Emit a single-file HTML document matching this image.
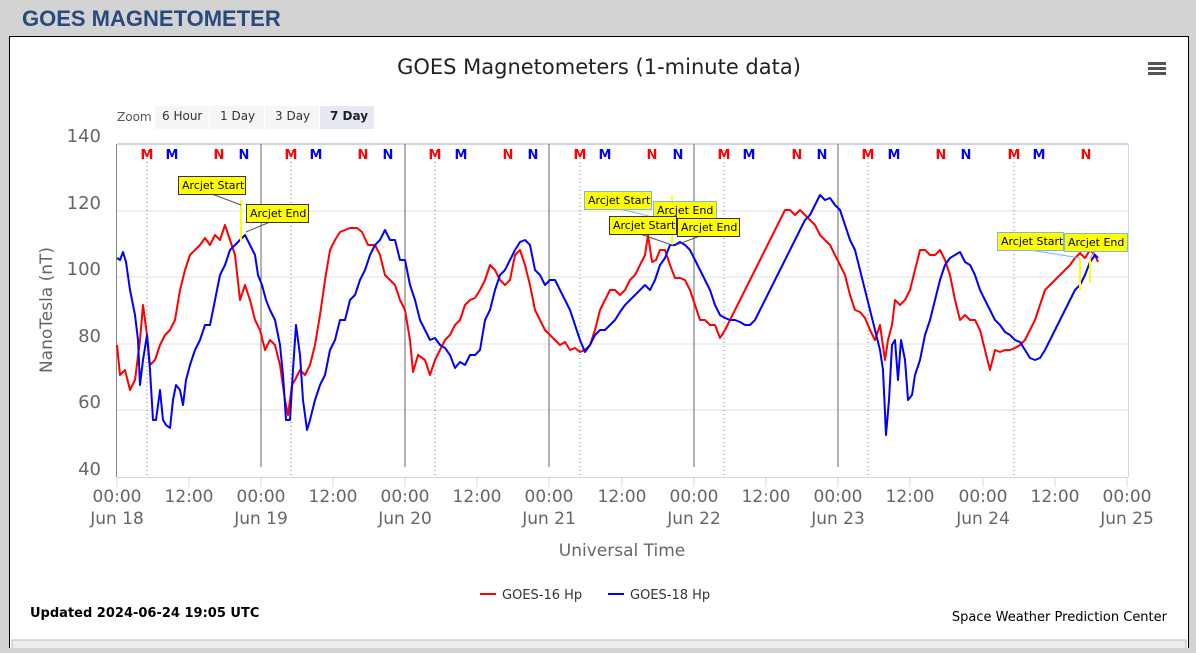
<!DOCTYPE html>
<html><head><meta charset="utf-8"><style>
body{margin:0;width:1196px;height:648px;background:#d3d3d3;overflow:hidden;font-family:"Liberation Sans",sans-serif}
</style></head><body>
<svg width="1196" height="648" xmlns="http://www.w3.org/2000/svg" font-family="Liberation Sans, DejaVu Sans, sans-serif">
<text x="22" y="26" font-size="22" font-weight="bold" fill="#2a4a7f">GOES MAGNETOMETER</text>
<rect x="9.5" y="36.5" width="1179" height="620" fill="#fff" stroke="#000"/>
<rect x="12" y="640" width="1174" height="10" fill="#eee" stroke="#bbb"/>
<text x="599" y="74" font-size="21" text-anchor="middle" fill="#222" font-family="DejaVu Sans, sans-serif">GOES Magnetometers (1-minute data)</text>
<g fill="#555"><rect x="1148" y="62" width="18" height="3"/><rect x="1148" y="67" width="18" height="3"/><rect x="1148" y="72" width="18" height="3"/></g>
<g font-size="12" font-family="DejaVu Sans, sans-serif">
<text x="117" y="121" fill="#555">Zoom</text>
<rect x="155" y="106" width="54" height="23" fill="#f5f5f5"/><text x="162" y="120" fill="#333">6 Hour</text>
<rect x="210" y="106" width="54" height="23" fill="#f5f5f5"/><text x="220" y="120" fill="#333">1 Day</text>
<rect x="265" y="106" width="54" height="23" fill="#f5f5f5"/><text x="275" y="120" fill="#333">3 Day</text>
<rect x="320" y="106" width="54" height="23" fill="#e6e9f4"/><text x="330" y="120" fill="#222" font-weight="bold">7 Day</text>
</g>
<g stroke="#e0e0e0"><line x1="117" y1="211" x2="1128" y2="211"/><line x1="117" y1="277" x2="1128" y2="277"/><line x1="117" y1="344" x2="1128" y2="344"/><line x1="117" y1="410" x2="1128" y2="410"/></g>
<line x1="1128.5" y1="144" x2="1128.5" y2="477" stroke="#ccd6eb"/>
<line x1="117" y1="144" x2="1128" y2="144" stroke="#ccd6eb" stroke-width="2"/>
<line x1="117" y1="477.5" x2="1128" y2="477.5" stroke="#ccd6eb"/>
<line x1="116.5" y1="144" x2="116.5" y2="477" stroke="#888"/>
<g stroke="#666"><line x1="261" y1="144" x2="261" y2="467"/><line x1="405" y1="144" x2="405" y2="467"/><line x1="549" y1="144" x2="549" y2="467"/><line x1="694" y1="144" x2="694" y2="467"/><line x1="838" y1="144" x2="838" y2="467"/></g>
<g stroke="#777" stroke-dasharray="1,3"><line x1="147" y1="150" x2="147" y2="477"/><line x1="291" y1="150" x2="291" y2="477"/><line x1="435" y1="150" x2="435" y2="477"/><line x1="580" y1="150" x2="580" y2="477"/><line x1="724" y1="150" x2="724" y2="477"/><line x1="868" y1="150" x2="868" y2="477"/><line x1="1014" y1="150" x2="1014" y2="477"/></g>
<g stroke="#ccd6eb"><line x1="189" y1="478" x2="189" y2="487"/><line x1="333" y1="478" x2="333" y2="487"/><line x1="477" y1="478" x2="477" y2="487"/><line x1="622" y1="478" x2="622" y2="487"/><line x1="766" y1="478" x2="766" y2="487"/><line x1="910" y1="478" x2="910" y2="487"/><line x1="1055" y1="478" x2="1055" y2="487"/>
<line x1="117" y1="478" x2="117" y2="487"/><line x1="261" y1="478" x2="261" y2="487"/><line x1="405" y1="478" x2="405" y2="487"/><line x1="549" y1="478" x2="549" y2="487"/><line x1="694" y1="478" x2="694" y2="487"/><line x1="838" y1="478" x2="838" y2="487"/><line x1="983" y1="478" x2="983" y2="487"/><line x1="1127" y1="478" x2="1127" y2="487"/></g>
<g font-size="18" fill="#666" text-anchor="end" font-family="DejaVu Sans, sans-serif">
<text x="101" y="142">140</text><text x="101" y="209">120</text><text x="101" y="275">100</text><text x="101" y="342">80</text><text x="101" y="408">60</text><text x="101" y="475">40</text></g>
<text transform="translate(52,310) rotate(-90)" font-size="17" fill="#666" text-anchor="middle" font-family="DejaVu Sans, sans-serif">NanoTesla (nT)</text>
<g font-size="17" fill="#666" text-anchor="middle" font-family="DejaVu Sans, sans-serif">
<text x="117" y="502">00:00</text><text x="117" y="524">Jun 18</text>
<text x="189" y="502">12:00</text>
<text x="261" y="502">00:00</text><text x="261" y="524">Jun 19</text>
<text x="333" y="502">12:00</text>
<text x="405" y="502">00:00</text><text x="405" y="524">Jun 20</text>
<text x="477" y="502">12:00</text>
<text x="549" y="502">00:00</text><text x="549" y="524">Jun 21</text>
<text x="622" y="502">12:00</text>
<text x="694" y="502">00:00</text><text x="694" y="524">Jun 22</text>
<text x="766" y="502">12:00</text>
<text x="838" y="502">00:00</text><text x="838" y="524">Jun 23</text>
<text x="910" y="502">12:00</text>
<text x="983" y="502">00:00</text><text x="983" y="524">Jun 24</text>
<text x="1055" y="502">12:00</text>
<text x="1127" y="502">00:00</text><text x="1127" y="524">Jun 25</text>
<text x="622" y="556">Universal Time</text></g>
<g font-size="13" font-weight="bold" text-anchor="middle" font-family="DejaVu Sans, sans-serif">
<g fill="#f00"><text x="147" y="159">M</text><text x="219" y="159">N</text><text x="291" y="159">M</text><text x="363" y="159">N</text><text x="435" y="159">M</text><text x="508" y="159">N</text><text x="580" y="159">M</text><text x="652" y="159">N</text><text x="724" y="159">M</text><text x="797" y="159">N</text><text x="868" y="159">M</text><text x="941" y="159">N</text><text x="1014" y="159">M</text><text x="1086" y="159">N</text></g>
<g fill="#00f"><text x="172" y="159">M</text><text x="244" y="159">N</text><text x="316" y="159">M</text><text x="388" y="159">N</text><text x="461" y="159">M</text><text x="533" y="159">N</text><text x="605" y="159">M</text><text x="678" y="159">N</text><text x="749" y="159">M</text><text x="822" y="159">N</text><text x="894" y="159">M</text><text x="966" y="159">N</text><text x="1039" y="159">M</text></g></g>
<polyline fill="none" stroke="#f00" stroke-width="2" stroke-linejoin="round" points="117,345 120,375 125,370 130,390 135,380 140,340 143,305 147,335 150,365 155,360 160,345 165,335 170,330 175,320 180,290 185,270 190,255 195,250 200,245 205,238 210,245 215,235 220,240 225,225 230,240 235,255 240,300 245,285 250,300 255,320 260,330 265,350 270,340 275,345 280,365 285,400 288,415 292,385 295,380 300,370 305,375 310,365 315,345 320,315 325,280 330,250 335,240 340,232 350,228 357,228 362,232 368,245 375,245 380,255 385,275 390,280 395,285 400,300 405,310 410,340 413,372 418,355 425,360 430,375 435,360 440,350 445,340 450,335 455,325 460,320 465,305 470,300 475,298 480,290 485,280 490,265 495,270 500,280 505,285 510,280 515,255 520,250 525,265 530,285 535,310 540,320 545,330 550,335 555,340 560,345 565,342 570,350 575,348 580,352 585,350 590,345 595,330 600,310 605,300 610,290 615,290 620,295 625,290 630,280 635,275 640,265 645,255 648,235 652,262 656,260 660,250 665,250 670,265 675,278 680,278 685,280 690,290 695,305 700,320 705,320 710,325 715,325 720,338 725,330 730,320 735,310 740,300 745,290 750,280 755,270 760,260 765,250 770,240 775,230 780,220 785,210 790,210 795,215 800,210 805,215 810,220 815,225 820,235 825,240 830,245 835,255 840,265 845,275 850,295 855,310 860,312 865,318 870,330 875,340 880,325 885,360 888,340 892,325 895,300 900,305 905,300 910,290 915,270 920,250 925,250 930,255 935,255 940,250 945,260 950,275 955,300 960,320 965,315 970,320 975,320 980,330 985,350 990,370 995,350 1000,352 1005,350 1010,350 1015,348 1020,345 1025,340 1030,330 1035,320 1040,305 1045,290 1050,285 1055,280 1060,275 1065,270 1070,265 1075,258 1080,253 1085,258 1090,250 1095,255 1098,262"/>
<polyline fill="none" stroke="#00f" stroke-width="2" stroke-linejoin="round" points="117,258 120,260 123,252 126,262 130,290 135,315 138,340 140,385 143,360 147,335 150,370 153,420 156,420 160,390 163,420 166,425 170,428 173,400 176,385 180,390 183,405 186,380 190,365 195,350 200,340 205,325 210,325 215,300 220,275 225,265 230,250 235,245 240,240 245,235 250,245 255,255 258,275 262,285 266,300 270,310 275,320 280,345 283,375 286,420 290,420 293,370 296,325 300,355 303,400 307,430 310,420 315,400 320,385 325,375 330,350 335,340 340,320 345,320 350,300 355,295 360,280 365,270 370,255 375,245 380,240 385,230 390,240 395,240 400,260 405,260 410,285 415,300 420,320 425,330 430,340 435,338 440,345 445,348 450,355 455,368 460,362 465,365 470,355 475,355 480,350 485,320 490,310 495,290 500,275 505,270 510,260 515,250 520,242 525,240 530,245 535,270 540,275 545,285 550,280 555,280 560,290 565,300 570,310 575,325 580,340 585,352 590,345 595,335 600,330 605,330 610,325 615,320 620,312 625,305 630,300 635,295 640,290 645,285 650,290 655,280 660,265 665,258 670,245 675,245 680,242 685,245 690,250 695,260 700,270 705,280 710,290 715,305 720,315 725,318 730,320 735,320 740,322 745,325 750,325 755,320 760,310 765,300 770,290 775,280 780,270 785,260 790,250 795,240 800,230 805,220 810,215 815,205 820,195 825,200 830,198 835,205 840,210 845,225 850,240 855,250 860,270 865,290 870,310 875,330 880,350 883,370 886,435 889,400 892,345 895,340 898,380 901,340 905,360 908,400 912,395 915,375 920,360 925,335 930,320 935,300 940,280 945,265 950,258 955,255 960,252 965,262 970,265 975,275 980,290 985,300 990,310 995,320 1000,325 1005,332 1010,335 1015,340 1020,342 1025,350 1030,358 1035,360 1040,358 1045,350 1050,340 1055,330 1060,320 1065,310 1070,300 1075,290 1080,285 1085,275 1090,262 1095,255 1098,258"/>
<g stroke="#ff0" stroke-width="2" fill="none"><line x1="241" y1="200" x2="241" y2="242"/><line x1="672" y1="195" x2="672" y2="245"/><line x1="1080" y1="258" x2="1080" y2="290"/><line x1="1090" y1="258" x2="1090" y2="282"/></g>
<g stroke="#555" stroke-width="1"><line x1="212" y1="194" x2="241" y2="205"/><line x1="246" y1="232" x2="270" y2="222"/><line x1="640" y1="234" x2="672" y2="245"/><line x1="676" y1="245" x2="700" y2="236"/></g>
<g stroke="#7cb5ec" stroke-width="1"><line x1="1030" y1="250" x2="1080" y2="258"/><line x1="1095" y1="251" x2="1090" y2="258"/><line x1="620" y1="209" x2="665" y2="220"/></g>
<g font-size="11" font-family="DejaVu Sans, sans-serif" fill="#000">
<rect x="178.5" y="176.5" width="67" height="18" fill="#ff0" stroke="#333"/><text x="182" y="189">Arcjet Start</text>
<rect x="246.5" y="204.5" width="62" height="18" fill="#ff0" stroke="#333"/><text x="250" y="217">Arcjet End</text>
<rect x="584.5" y="191.5" width="67" height="18" fill="#ff0" stroke="#7cb5ec"/><text x="588" y="204">Arcjet Start</text>
<rect x="653.5" y="201.5" width="63" height="18" fill="#ff0" stroke="#7cb5ec"/><text x="657" y="214">Arcjet End</text>
<rect x="609.5" y="216.5" width="67" height="18" fill="#ff0" stroke="#333"/><text x="613" y="229">Arcjet Start</text>
<rect x="677.5" y="218.5" width="62" height="18" fill="#ff0" stroke="#333"/><text x="681" y="231">Arcjet End</text>
<rect x="997.5" y="232.5" width="66" height="18" fill="#ff0" stroke="#7cb5ec"/><text x="1001" y="245">Arcjet Start</text>
<rect x="1064.5" y="233.5" width="63" height="18" fill="#ff0" stroke="#7cb5ec"/><text x="1068" y="246">Arcjet End</text>
</g>
<g font-size="13" font-family="DejaVu Sans, sans-serif" fill="#333">
<line x1="480" y1="594" x2="496" y2="594" stroke="#f00" stroke-width="2"/><text x="502" y="599">GOES-16 Hp</text>
<line x1="608" y1="594" x2="624" y2="594" stroke="#00f" stroke-width="2"/><text x="630" y="599">GOES-18 Hp</text>
<text x="30" y="617" font-weight="bold" fill="#000">Updated 2024-06-24 19:05 UTC</text>
<text x="1167" y="621" text-anchor="end" fill="#000">Space Weather Prediction Center</text>
</g>
</svg>
</body></html>
